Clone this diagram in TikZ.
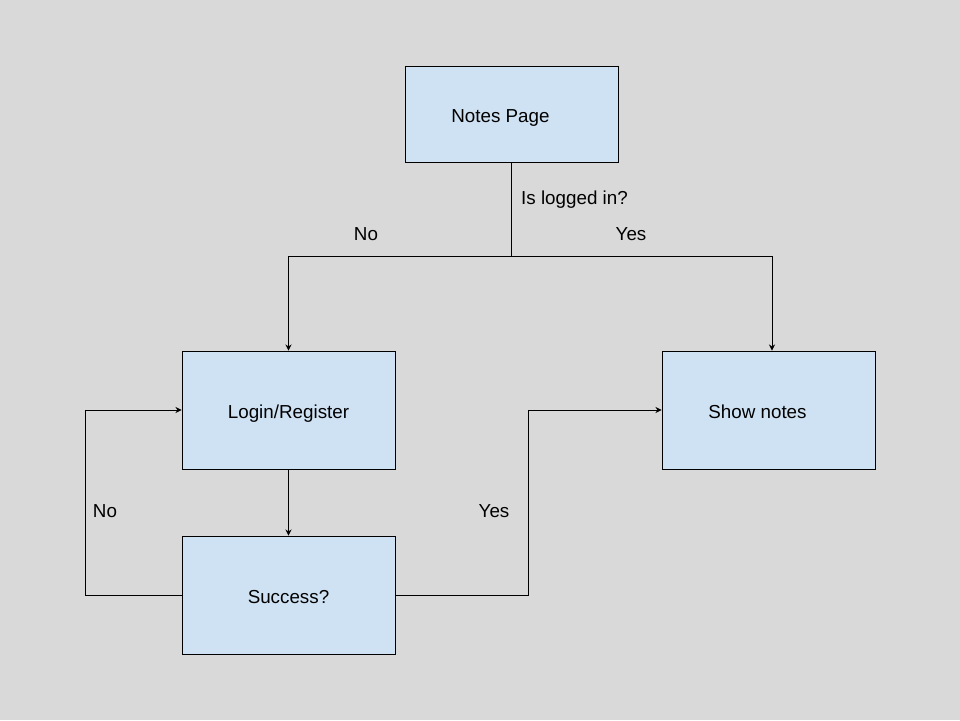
\documentclass[tikz,border=0pt]{standalone}
\usepackage{fontspec}
\setmainfont{Liberation Sans}
\usepackage{xcolor}
\usetikzlibrary{arrows.meta}
\definecolor{pagegray}{HTML}{D9D9D9}
\definecolor{boxblue}{HTML}{CFE2F3}

\begin{document}
\begin{tikzpicture}[x=0.02cm,y=-0.02cm]
\tikzset{
    flowbox/.style={draw, fill=boxblue, line width=0.5pt, inner sep=0pt,
        minimum width=4.26cm, minimum height=2.36cm,
        text height=12.3pt, text depth=2.2pt},
    flowline/.style={line width=0.5pt},
    flowarrow/.style={flowline, -{Stealth[length=3.5pt,width=3.5pt]}},
    every node/.style={font=\fontsize{10.7}{13}\selectfont}
}
\fill[pagegray] (0,0) rectangle (960,720);
\useasboundingbox (0,0) rectangle (960,720);

% Boxes
\node[flowbox, minimum height=1.92cm] (notes) at (511.5,114) {\hspace*{-0.44cm}Notes Page};
\node[flowbox] (login) at (288.5,410) {Login/Register};
\node[flowbox] (success) at (288.5,595) {Success?};
\node[flowbox] (show) at (768.5,410) {\hspace*{-0.44cm}Show notes};

% Turning points
\coordinate (split) at (511.5,256);
\coordinate (noturn) at (85,595);
\coordinate (yesturn) at (528,595);

% Connectors
\draw[flowline] (notes.south) -- (split);
\draw[flowarrow] (split) -| (login.north);
\draw[flowarrow] (split) -| ([xshift=0.07cm]show.north);
\draw[flowarrow] (login.south) -- (success.north);
\draw[flowarrow] (success.west) -- (noturn) |- (login.west);
\draw[flowarrow] (success.east) -- (yesturn) |- (show.west);

% Labels
\node[anchor=west] (loggedq) at (515,199.5) {Is logged in?};
\node (topno) at (366,234.5) {No};
\node (topyes) at (631,234.5) {Yes};
\node (loopno) at (105,511.5) {No};
\node (loopyes) at (494,511.5) {Yes};

\end{tikzpicture}
\end{document}
